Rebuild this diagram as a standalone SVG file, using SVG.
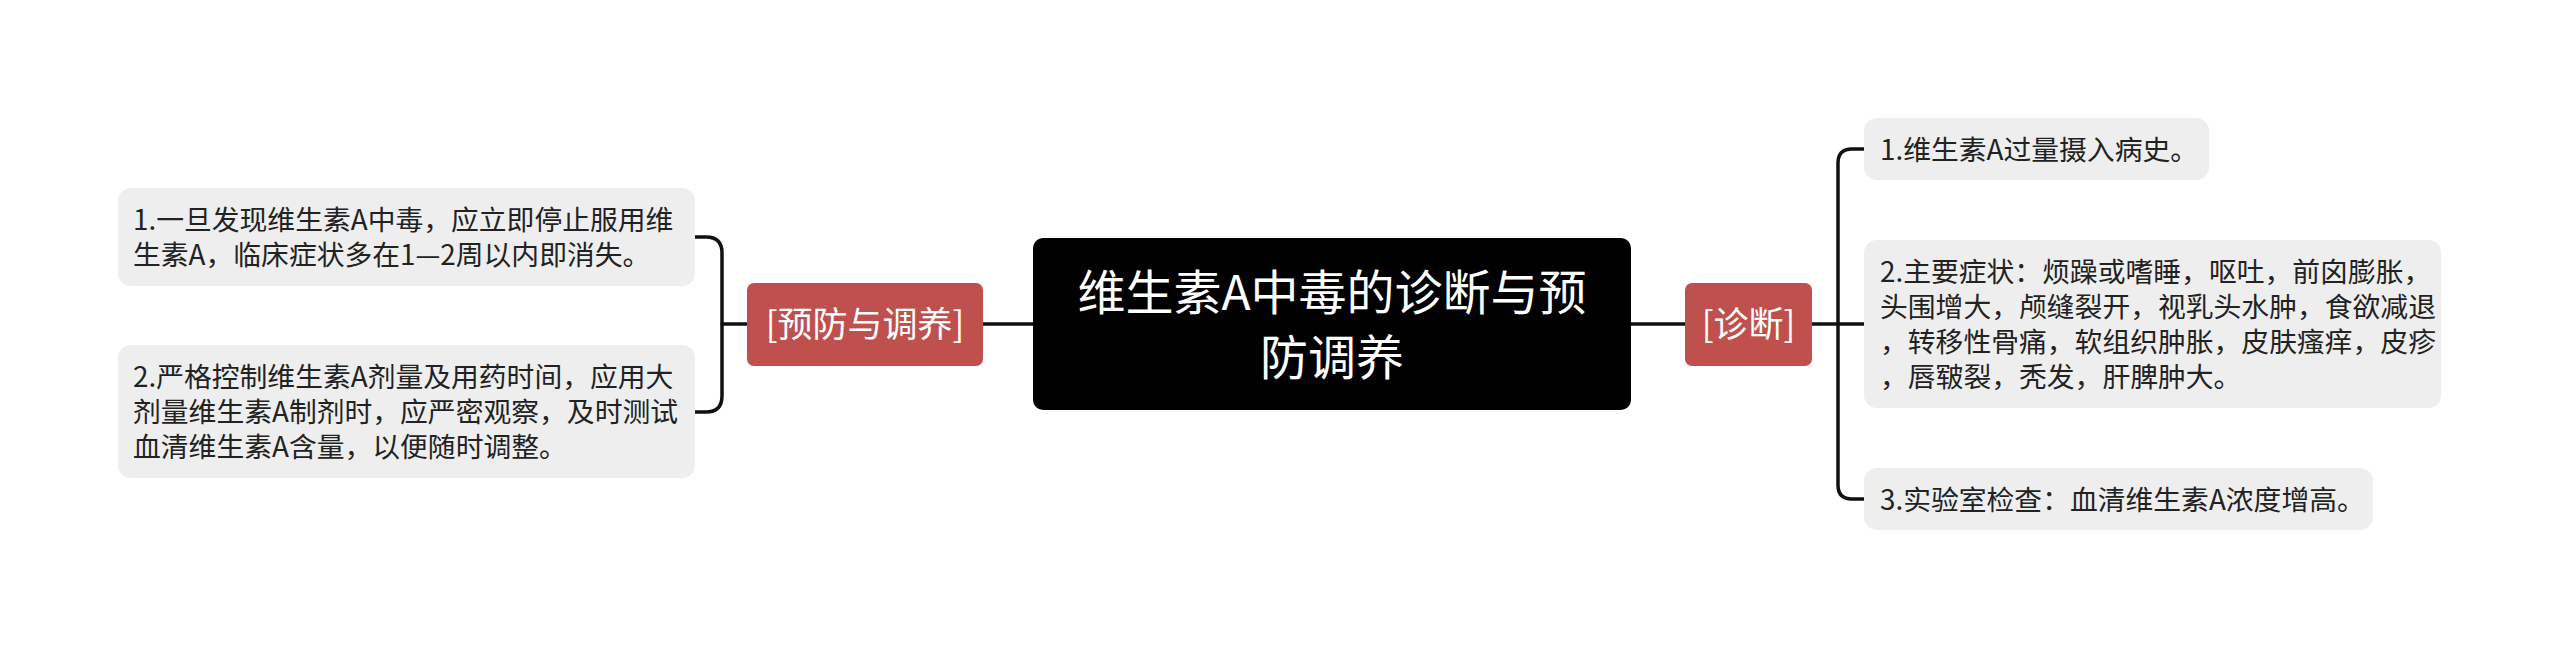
<svg xmlns="http://www.w3.org/2000/svg" width="2560" height="649" viewBox="0 0 2560 649">
<style>
.t{font-family:"Noto Sans CJK SC","Noto Sans",sans-serif;}
.card{fill:#EEEEEE;}
.ct{font-size:27.8px;fill:#222222;}
.br{fill:#C0504D;}
.bt{font-size:35px;fill:#FFFFFF;text-anchor:middle;}
.mt{font-size:48px;fill:#FFFFFF;text-anchor:middle;}
.ln{fill:none;stroke:#111111;stroke-width:3.5;stroke-linecap:round;stroke-linejoin:round;}
</style>
<rect width="2560" height="649" fill="#FFFFFF"/>
<g id="connectors">
<path class="ln" d="M983 324 H1033"/>
<path class="ln" d="M1631 324 H1685"/>
<path class="ln" d="M747 324 H722"/>
<path class="ln" d="M695 237 H706 Q722 237 722 253 V396 Q722 412 706 412 H695"/>
<path class="ln" d="M1812 324 H1864"/>
<path class="ln" d="M1864 149 H1852 Q1838 149 1838 163 V485 Q1838 499 1852 499 H1864"/>
</g>
<g id="center">
<rect x="1033" y="238" width="598" height="172" rx="10" fill="#000000"/>
<text class="t mt" x="1332" y="310">维生素A中毒的诊断与预</text>
<text class="t mt" x="1332" y="375">防调养</text>
</g>
<g id="branch-prevent">
<rect class="br" x="747" y="283" width="236" height="83" rx="7"/>
<text class="t bt" x="865" y="337">[预防与调养]</text>
</g>
<g id="branch-diagnose">
<rect class="br" x="1685" y="283" width="127" height="83" rx="7"/>
<text class="t bt" x="1748.5" y="337">[诊断]</text>
</g>
<g id="prevent-1">
<rect class="card" x="118" y="188" width="577" height="98" rx="13"/>
<text class="t ct" x="133" y="230">1.一旦发现维生素A中毒，应立即停止服用维</text>
<text class="t ct" x="133" y="265">生素A，临床症状多在1—2周以内即消失。</text>
</g>
<g id="prevent-2">
<rect class="card" x="118" y="345" width="577" height="133" rx="13"/>
<text class="t ct" x="133" y="387">2.严格控制维生素A剂量及用药时间，应用大</text>
<text class="t ct" x="133" y="422">剂量维生素A制剂时，应严密观察，及时测试</text>
<text class="t ct" x="133" y="457">血清维生素A含量，以便随时调整。</text>
</g>
<g id="diag-1">
<rect class="card" x="1864" y="118" width="345" height="62" rx="13"/>
<text class="t ct" x="1880" y="159.5">1.维生素A过量摄入病史。</text>
</g>
<g id="diag-2">
<rect class="card" x="1864" y="240" width="577" height="168" rx="13"/>
<text class="t ct" x="1880" y="282">2.主要症状：烦躁或嗜睡，呕吐，前囟膨胀，</text>
<text class="t ct" x="1880" y="317">头围增大，颅缝裂开，视乳头水肿，食欲减退</text>
<text class="t ct" x="1880" y="352">，转移性骨痛，软组织肿胀，皮肤瘙痒，皮疹</text>
<text class="t ct" x="1880" y="387">，唇皲裂，秃发，肝脾肿大。</text>
</g>
<g id="diag-3">
<rect class="card" x="1864" y="468" width="509" height="62" rx="13"/>
<text class="t ct" x="1880" y="509.5">3.实验室检查：血清维生素A浓度增高。</text>
</g>
</svg>
